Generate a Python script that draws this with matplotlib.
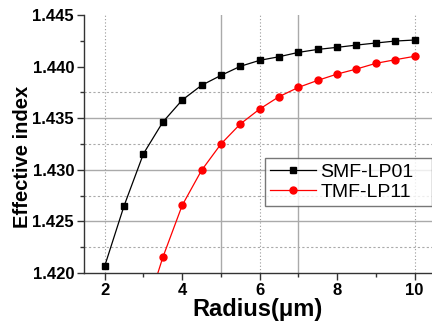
import numpy as np
import matplotlib.pyplot as plt
from matplotlib.ticker import MultipleLocator

# data
radius_smf = [2, 2.5, 3, 3.5, 4, 4.5, 5, 5.5, 6, 6.5, 7, 7.5, 8, 8.5, 9, 9.5, 10]
neff_smf = [1.42068, 1.42652, 1.43156, 1.43463, 1.43676, 1.43819, 1.43915, 1.44003,
            1.44061, 1.44096, 1.44138, 1.44167, 1.44187, 1.44209, 1.44229, 1.44248, 1.44258]
radius_tmf = [3, 3.5, 4, 4.5, 5, 5.5, 6, 6.5, 7, 7.5, 8, 8.5, 9, 9.5, 10]
neff_tmf = [1.4156, 1.42152, 1.42656, 1.42995, 1.4325, 1.43444, 1.43589, 1.43709,
            1.43799, 1.43867, 1.43928, 1.43977, 1.44032, 1.44067, 1.44100]

plt.rcParams['font.family'] = ['Liberation Sans', 'DejaVu Sans']

fig = plt.figure(figsize=(4.32, 3.27), dpi=100)
ax = fig.add_axes([0.194, 0.165, 0.806, 0.789])

# grid as seen in the picture
for x in [2, 6, 10]:
    ax.axvline(x, color='#999999', lw=0.8, ls=(0, (1, 2)), zorder=0)
for x in [5, 7]:
    ax.axvline(x, color='#aaaaaa', lw=1.0, zorder=0)
for y in [1.425, 1.430, 1.435]:
    ax.axhline(y, color='#aaaaaa', lw=1.0, zorder=0)
for y in [1.4225, 1.4275, 1.4325, 1.4375]:
    ax.axhline(y, color='#aaaaaa', lw=0.8, ls=(0, (2, 2)), zorder=0)

ax.plot(radius_smf, neff_smf, '-s', color='black', lw=0.9, ms=5, label='SMF-LP01')
ax.plot(radius_tmf, neff_tmf, '-o', color='red', lw=0.9, ms=5, label='TMF-LP11')

ax.set_xlim(1.46, 10.45)
ax.set_ylim(1.420, 1.445)
ax.xaxis.set_major_locator(MultipleLocator(2))
ax.xaxis.set_minor_locator(MultipleLocator(1))
ax.yaxis.set_major_locator(MultipleLocator(0.005))
ax.yaxis.set_minor_locator(MultipleLocator(0.0025))
ax.yaxis.set_major_formatter(plt.FormatStrFormatter('%.3f'))

for s in ['top', 'right']:
    ax.spines[s].set_visible(False)
for s in ['left', 'bottom']:
    ax.spines[s].set_color('#333333')
    ax.spines[s].set_linewidth(1.0)

ax.tick_params(which='major', length=5, width=1, color='#333333', labelsize=12, pad=2)
ax.tick_params(which='minor', length=3, width=1, color='#333333')
for lab in ax.get_xticklabels() + ax.get_yticklabels():
    lab.set_fontweight('bold')

ax.set_xlabel('Radius(\u03bcm)', fontsize=17, fontweight='bold', labelpad=0)
ax.set_ylabel('Effective index', fontsize=14.5, fontweight='bold')
ax.yaxis.set_label_coords(-0.15, 0.45)

leg = ax.legend(loc='upper left', bbox_to_anchor=(0.52, 0.255, 0.48, 0.19), mode='expand',
                fontsize=14, frameon=True, fancybox=False, borderpad=0.25, handlelength=2.4,
                handletextpad=0.2, labelspacing=0.15, borderaxespad=0)
leg.get_frame().set_edgecolor('#555555')
leg.get_frame().set_linewidth(1.0)

fig.savefig('out.png', dpi=100)
